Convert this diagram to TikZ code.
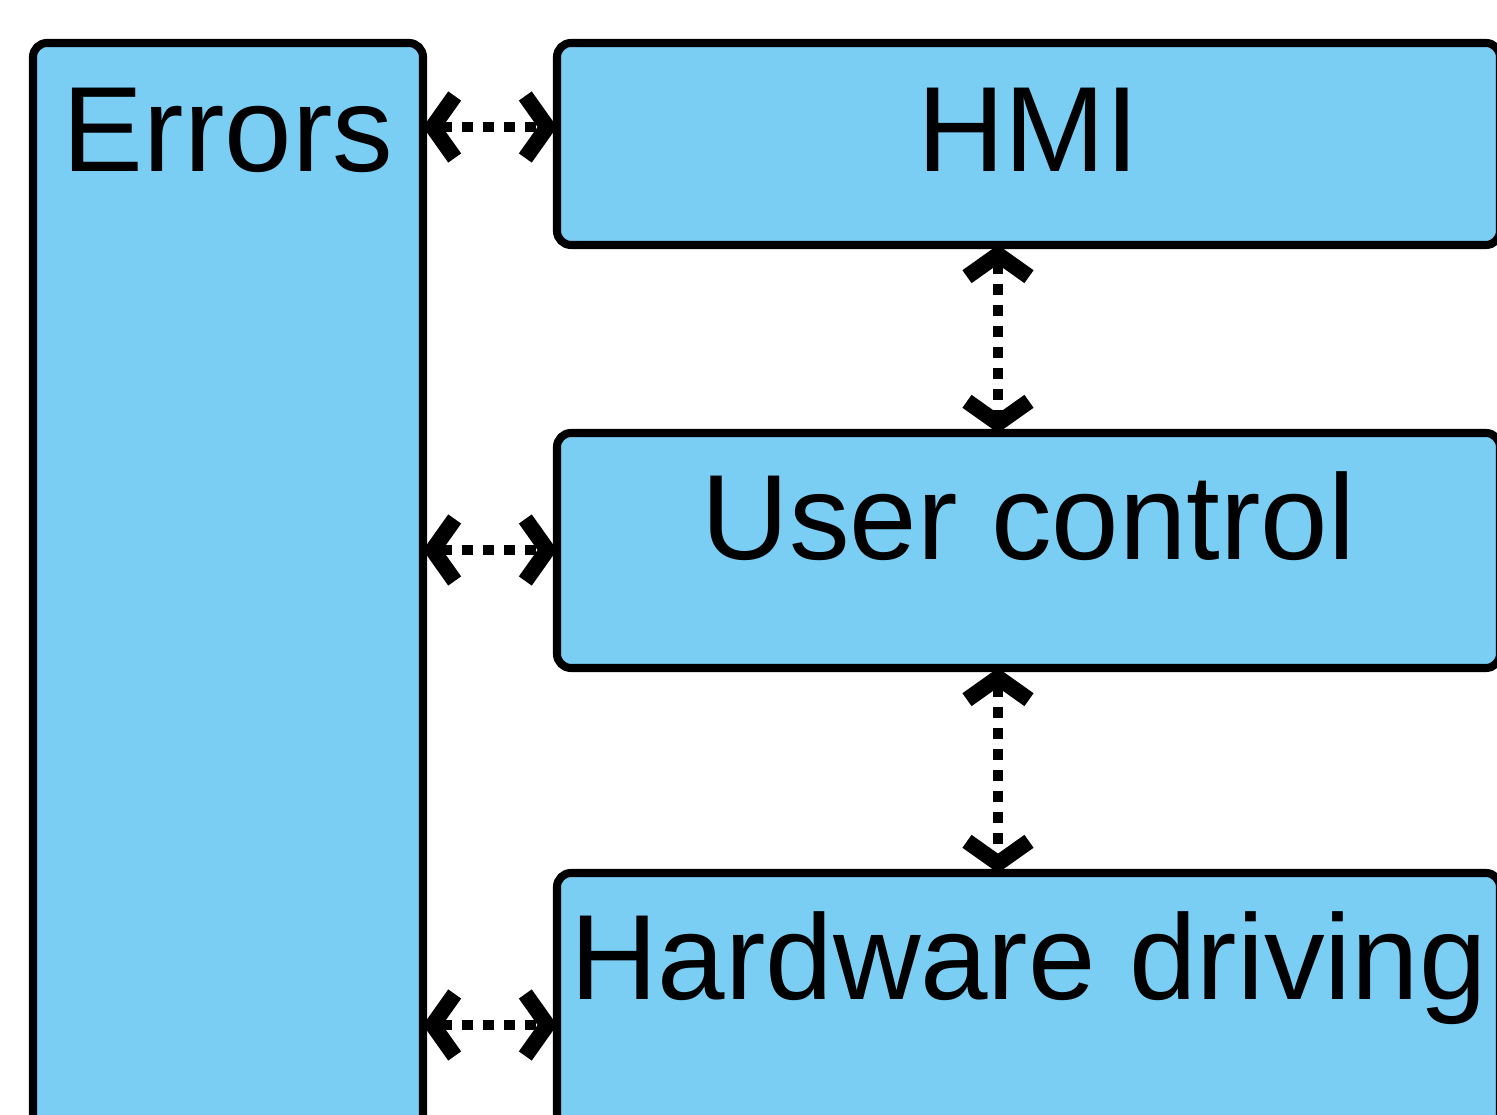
\documentclass[tikz,border=0pt]{standalone}
\usepackage{fontspec}
\setmainfont{Liberation Sans}
\usetikzlibrary{arrows.meta,positioning}
\definecolor{boxblue}{RGB}{122,206,244}
\tikzset{
  block/.style={draw, fill=boxblue, line width=2.3pt, rounded corners=4pt,
    inner sep=0pt, outer sep=0pt, anchor=north west},
  blocktext/.style={font=\fontsize{34.5}{40}\selectfont, inner sep=0pt, anchor=base},
  link/.style={line width=3pt, dash pattern=on 3.2pt off 2.8pt,
    {Straight Barb[length=2.2mm,width=6.2mm,line width=4.5pt,line cap=butt]}-{Straight Barb[length=2.2mm,width=6.2mm,line width=4.5pt,line cap=butt]}},
}
\begin{document}
\begin{tikzpicture}
    \useasboundingbox (0,0) rectangle (14.97,-11.15);
    \clip (0,0) rectangle (14.97,-11.15);
    % blocks
    \node[block, minimum width=3.9cm, minimum height=11.8cm] (errors) at (0.33,-0.43) {};
    \node[block, minimum width=9.43cm, minimum height=2.02cm] (hmi) at (5.57,-0.43) {};
    \node[block, minimum width=9.43cm, minimum height=2.35cm] (user) at (5.57,-4.33) {};
    \node[block, minimum width=9.43cm, minimum height=3cm] (hardware) at (5.57,-8.73) {};
    \node[blocktext] (errorstext) at ([yshift=-1.29cm]errors.north) {Errors};
    \node[blocktext] (hmitext) at ([yshift=-1.29cm]hmi.north) {HMI};
    \node[blocktext] (usertext) at ([yshift=-1.27cm]user.north) {User control};
    \node[blocktext] (hardwaretext) at ([yshift=-1.27cm]hardware.north) {Hardware driving};
    % links
    \coordinate (rowa) at (0,-1.27);
    \coordinate (rowb) at (0,-5.50);
    \coordinate (rowc) at (0,-10.25);
    \coordinate (axis) at (9.98,0);
    \draw[link] (errors.east |- rowa) -- (hmi.west |- rowa);
    \draw[link] (errors.east |- rowb) -- (user.west |- rowb);
    \draw[link] (errors.east |- rowc) -- (hardware.west |- rowc);
    \draw[link] (hmi.south -| axis) -- (user.north -| axis);
    \draw[link] (user.south -| axis) -- (hardware.north -| axis);
\end{tikzpicture}
\end{document}
